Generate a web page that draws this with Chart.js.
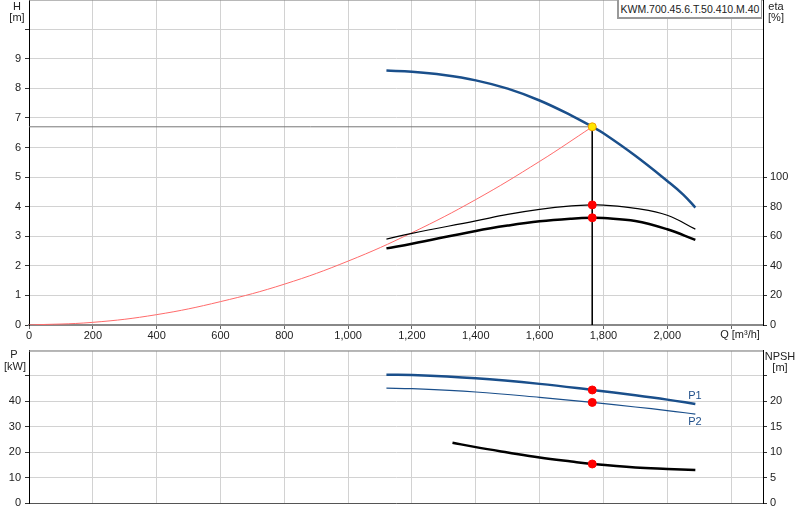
<!DOCTYPE html>
<html>
<head>
<meta charset="utf-8">
<title>KWM.700.45.6.T.50.410.M.40</title>
<style>
  body { margin: 0; background: #fff; font-family: "Liberation Sans", Arial, sans-serif; }
  #wrap { position: relative; width: 800px; height: 520px; overflow: hidden; }
  #topBox { position: absolute; left: 0; top: 0; width: 800px; height: 345px; }
  #botBox { position: absolute; left: 0; top: 345px; width: 800px; height: 175px; }
  .lbl { position: absolute; font-size: 11px; line-height: 12px; color: #222; white-space: nowrap; transform: translateX(-50%); text-align: center; }
  .blue { color: #1f4f8a; }
  #pumpName { position: absolute; left: 617px; top: -1px; width: 145px; height: 20px; background: #fff;
    border: 1px solid #999; border-left-width: 2px; border-bottom-width: 2px;
    font-size: 10.5px; line-height: 19px; color: #222; text-align: center; box-sizing: border-box; }
</style>
</head>
<body>
<div id="wrap">
  <div id="topBox"><canvas id="topChart" width="800" height="345"></canvas></div>
  <div id="botBox"><canvas id="botChart" width="800" height="175"></canvas></div>
  <div id="pumpName">KWM.700.45.6.T.50.410.M.40</div>
  <div class="lbl" style="left:17px;top:0px">H</div>
  <div class="lbl" style="left:17px;top:11px">[m]</div>
  <div class="lbl" style="left:776px;top:0px">eta</div>
  <div class="lbl" style="left:776px;top:11px">[%]</div>
  <div class="lbl" style="left:740px;top:328px">Q [m³/h]</div>
  <div class="lbl" style="left:14px;top:348px">P</div>
  <div class="lbl" style="left:15px;top:360px">[kW]</div>
  <div class="lbl" style="left:780px;top:350px">NPSH</div>
  <div class="lbl" style="left:780px;top:361px">[m]</div>
  <div class="lbl blue" style="left:695px;top:389px">P1</div>
  <div class="lbl blue" style="left:695px;top:415px">P2</div>
</div>
<script src="https://cdn.jsdelivr.net/npm/chart.js"></script>
<script>
  // tick labels shown on the axes
  const xTicks = [0, 200, 400, 600, 800, 1000, 1200, 1400, 1600, 1800, 2000];
  const hTicks = [0, 1, 2, 3, 4, 5, 6, 7, 8, 9];
  const etaTicks = [0, 20, 40, 60, 80, 100];
  const pTicks = [0, 10, 20, 30, 40];
  const npshTicks = [0, 5, 10, 15, 20];

  // pump curve H(Q)
  const hQ = [1120, 1200, 1300, 1400, 1500, 1600, 1700, 1765, 1800, 1900, 2000, 2050, 2088];
  const hVal = [8.60, 8.56, 8.45, 8.27, 7.99, 7.59, 7.08, 6.70, 6.48, 5.72, 4.87, 4.41, 3.97];

  // efficiency curves [%]
  const etaQ = [1120, 1200, 1400, 1500, 1600, 1700, 1765, 1800, 1900, 2000, 2088];
  const etaPump = [58.1, 62.0, 70.4, 74.8, 78.2, 80.5, 81.2, 81.1, 78.9, 74.2, 64.8];
  const etaTotal = [51.8, 55.0, 63.6, 67.2, 70.1, 71.9, 72.5, 72.3, 70.3, 64.7, 57.6];

  // system curve
  const sysQ = [0, 200, 400, 600, 800, 1000, 1200, 1400, 1600, 1765];
  const sysH = [0, 0.09, 0.35, 0.79, 1.38, 2.16, 3.12, 4.24, 5.53, 6.70];

  // power P1 / P2 [kW]
  const pQ = [1120, 1200, 1400, 1600, 1765, 1900, 2000, 2088];
  const p1Val = [50.5, 50.4, 49.1, 46.9, 44.5, 42.4, 40.7, 39.0];
  const p2Val = [45.2, 45.0, 43.7, 41.6, 39.6, 37.8, 36.4, 35.0];

  // NPSH [m]
  const npshQ = [1327, 1400, 1500, 1600, 1700, 1765, 1900, 2000, 2088];
  const npshVal = [11.87, 11.0, 9.95, 8.95, 8.15, 7.68, 6.98, 6.70, 6.50];

  // duty point
  const opQ = 1765;
  const opH = 6.70;
  const opEtaPump = 81.2;
  const opEtaTotal = 72.5;
  const opP1 = 44.5;
  const opP2 = 39.6;
  const opNpsh = 7.68;

  const pts = (xs, ys) => xs.map((x, i) => ({ x: x, y: ys[i] }));
  const font = { family: "'Liberation Sans', Arial, sans-serif", size: 11 };
  const gridCol = '#d2d2d2';

  const frameTop = {
    id: 'frameTop',
    beforeDatasetsDraw(chart) {
      const { ctx, chartArea: a } = chart;
      ctx.save();
      ctx.strokeStyle = '#888';
      ctx.lineWidth = 1;
      ctx.beginPath();
      ctx.moveTo(a.left, a.top + 0.5);
      ctx.lineTo(a.right, a.top + 0.5);
      ctx.stroke();
      ctx.restore();
    }
  };

  function fixWidth(w) {
    return function (scale) { scale.width = w; };
  }
  function fixHeight(h) {
    return function (scale) { scale.height = h; };
  }
  function line(data, color, width, axis) {
    return {
      data: data, yAxisID: axis, borderColor: color, borderWidth: width,
      pointRadius: 0, fill: false, tension: 0.4, order: 2
    };
  }
  function straight(data, color, axis) {
    return {
      data: data, yAxisID: axis, borderColor: color, borderWidth: 1,
      pointRadius: 0, fill: false, tension: 0, order: 3
    };
  }
  function marker(data, axis, fillCol, edgeCol) {
    return {
      data: data, yAxisID: axis, showLine: false, pointRadius: 4, pointHoverRadius: 4,
      pointBackgroundColor: fillCol, pointBorderColor: edgeCol, pointBorderWidth: 1, order: 0
    };
  }
  function xScale(showLabels) {
    return {
      type: 'linear', min: 0, max: 2300,
      afterFit: fixHeight(showLabels ? 20 : 17),
      ticks: {
        stepSize: 200, includeBounds: false, display: showLabels, padding: 0, font: font, color: '#222',
        maxRotation: 0, autoSkip: false,
        callback: v => xTicks.includes(v) ? v.toLocaleString('en-US') : ''
      },
      grid: { color: gridCol, drawTicks: showLabels, tickLength: 4, tickColor: '#666' },
      border: { display: true, color: showLabels ? '#888' : '#555', width: showLabels ? 2 : 1 }
    };
  }
  function yScale(pos, max, step, shown, tickMax, width, onChart) {
    return {
      type: 'linear', position: pos, min: 0, max: max,
      afterFit: fixWidth(width),
      ticks: {
        stepSize: step, padding: pos === 'left' ? 4 : 3, font: font, color: '#222',
        callback: v => shown.includes(v) ? String(v) : ''
      },
      grid: {
        drawOnChartArea: onChart, color: gridCol, tickLength: 4,
        tickColor: ctx => (ctx.tick && ctx.tick.value <= tickMax) ? '#333' : 'rgba(0,0,0,0)'
      },
      border: { display: true, color: '#000', width: 1 }
    };
  }

  // move/resize a canvas so its plot area lands on the wanted page rows
  function place(chart, box, wantTop, wantBottom) {
    const a = chart.chartArea;
    const h = Math.round(chart.height + (wantBottom - wantTop) - (a.bottom - a.top));
    box.style.height = h + 'px';
    chart.resize(800, h);
    box.style.top = Math.round(wantTop - chart.chartArea.top) + 'px';
  }

  const common = {
    responsive: false,
    maintainAspectRatio: false,
    animation: false,
    events: [],
    layout: { padding: 0 },
    plugins: { legend: { display: false }, tooltip: { enabled: false } }
  };

  const topChart = new Chart(document.getElementById('topChart'), {
    type: 'line',
    data: {
      datasets: [
        marker([{ x: opQ, y: opH }], 'y', '#ffe600', '#f0a000'),
        marker(pts([opQ, opQ], [opEtaPump, opEtaTotal]), 'y1', '#ff0000', '#ff0000'),
        line(pts(hQ, hVal), '#1a4f8b', 2.5, 'y'),
        line(pts(etaQ, etaPump), '#000', 1.2, 'y1'),
        line(pts(etaQ, etaTotal), '#000', 2.5, 'y1'),
        line(pts(sysQ, sysH), '#ff6b6b', 1, 'y'),
        straight(pts([0, opQ], [opH, opH]), '#777', 'y'),
        straight(pts([opQ, opQ], [opH, 0]), '#000', 'y')
      ]
    },
    options: Object.assign({}, common, {
      scales: {
        x: xScale(true),
        y: yScale('left', 11, 1, hTicks, 10, 29, true),
        y1: yScale('right', 220, 20, etaTicks, 100, 37, false)
      }
    }),
    plugins: [frameTop]
  });

  const botChart = new Chart(document.getElementById('botChart'), {
    type: 'line',
    data: {
      datasets: [
        marker(pts([opQ, opQ], [opP1, opP2]), 'y', '#ff0000', '#ff0000'),
        marker([{ x: opQ, y: opNpsh }], 'y1', '#ff0000', '#ff0000'),
        line(pts(pQ, p1Val), '#1a4f8b', 2.5, 'y'),
        line(pts(pQ, p2Val), '#1a4f8b', 1.2, 'y'),
        line(pts(npshQ, npshVal), '#000', 2.5, 'y1')
      ]
    },
    options: Object.assign({}, common, {
      scales: {
        x: xScale(false),
        y: yScale('left', 60, 10, pTicks, 50, 29, true),
        y1: yScale('right', 30, 5, npshTicks, 25, 37, false)
      }
    }),
    plugins: [frameTop]
  });

  place(topChart, document.getElementById('topBox'), 0, 325);
  place(botChart, document.getElementById('botBox'), 351, 503);
</script>
</body>
</html>
